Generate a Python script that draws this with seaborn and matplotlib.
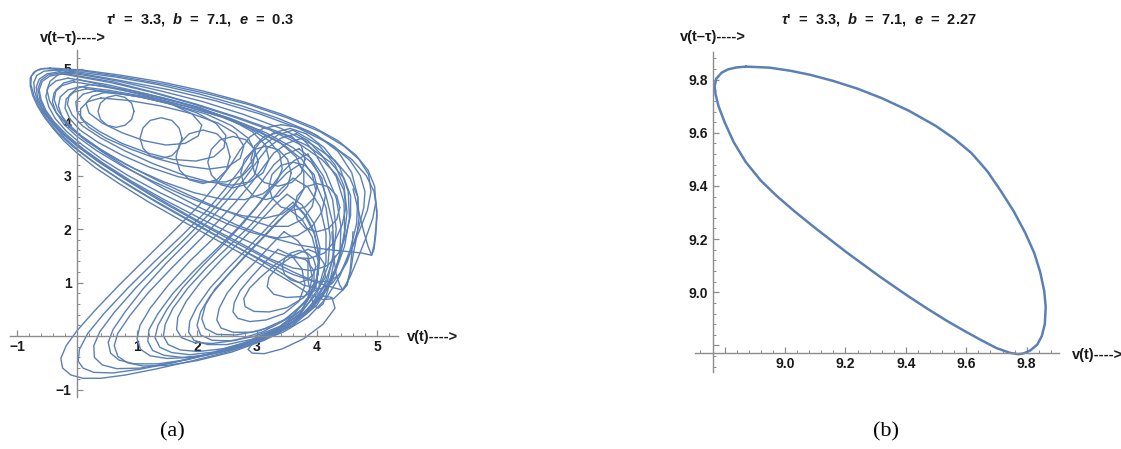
import matplotlib
matplotlib.use("Agg")
import matplotlib.pyplot as plt
from matplotlib.ticker import MultipleLocator
import pandas as pd
import seaborn as sns

LINE = "#5b80b6"
AXIS = "#8c8c8c"
INK = "#1a1a1a"

# ---- panel (a): chaotic attractor, strands ----
# big tilted loops: top-left vertex -> descending band -> right side -> top band
top_loops = [
    [(-0.45, 5.01), (-0.62, 4.99), (-0.72, 4.93), (-0.78, 4.82), (-0.78, 4.68), (-0.74, 4.5), (-0.66, 4.3),
     (-0.55, 4.1), (-0.4, 3.88), (-0.22, 3.65), (0.0, 3.42), (0.3, 3.15), (0.7, 2.85), (1.2, 2.5), (1.8, 2.12),
     (2.4, 1.75), (3.0, 1.38), (3.5, 1.05), (3.85, 0.8), (4.1, 0.68), (4.28, 0.7), (4.42, 0.85), (4.55, 1.1),
     (4.68, 1.45), (4.82, 1.85), (4.93, 2.2), (4.98, 2.5), (4.96, 2.8), (4.85, 3.1), (4.65, 3.38), (4.35, 3.65),
     (3.95, 3.9), (3.4, 4.15), (2.8, 4.37), (2.1, 4.58), (1.4, 4.75), (0.7, 4.88), (0.1, 4.97), (-0.45, 5.01)],
    [(-0.55, 5.0), (-0.68, 4.96), (-0.76, 4.86), (-0.77, 4.7), (-0.72, 4.5), (-0.63, 4.28), (-0.5, 4.05),
     (-0.32, 3.8), (-0.08, 3.55), (0.25, 3.27), (0.68, 2.95), (1.22, 2.58), (1.82, 2.2), (2.45, 1.8), (3.0, 1.45),
     (3.45, 1.15), (3.78, 0.95), (4.05, 0.88), (4.25, 0.98), (4.4, 1.2), (4.55, 1.55), (4.7, 1.95), (4.84, 2.35),
     (4.9, 2.7), (4.86, 3.02), (4.7, 3.3), (4.45, 3.55), (4.05, 3.82), (3.5, 4.08), (2.88, 4.32), (2.2, 4.52),
     (1.48, 4.7), (0.78, 4.84), (0.12, 4.95), (-0.55, 5.0)],
    [(-0.35, 4.97), (-0.55, 4.95), (-0.67, 4.87), (-0.72, 4.74), (-0.71, 4.58), (-0.65, 4.38), (-0.55, 4.17),
     (-0.4, 3.95), (-0.2, 3.7), (0.05, 3.45), (0.4, 3.15), (0.85, 2.82), (1.4, 2.45), (2.0, 2.07), (2.6, 1.7),
     (3.15, 1.38), (3.6, 1.15), (3.95, 1.02), (4.2, 1.02), (4.38, 1.15), (4.5, 1.38), (4.6, 1.7), (4.7, 2.05),
     (4.78, 2.4), (4.8, 2.7), (4.72, 3.0), (4.55, 3.28), (4.28, 3.55), (3.88, 3.82), (3.35, 4.07), (2.75, 4.3),
     (2.05, 4.52), (1.35, 4.7), (0.65, 4.84), (0.05, 4.93), (-0.35, 4.97)],
    [(-0.3, 4.94), (-0.5, 4.9), (-0.63, 4.8), (-0.68, 4.65), (-0.66, 4.47), (-0.58, 4.26), (-0.45, 4.04),
     (-0.26, 3.8), (0.0, 3.55), (0.35, 3.26), (0.8, 2.93), (1.35, 2.55), (1.95, 2.17), (2.55, 1.8), (3.1, 1.48),
     (3.6, 1.2), (4.0, 1.0), (4.28, 0.9), (4.43, 0.86), (4.5, 0.95), (4.56, 1.2), (4.6, 1.5), (4.66, 1.85),
     (4.7, 2.2), (4.68, 2.6), (4.55, 2.95), (4.3, 3.28), (3.92, 3.58), (3.4, 3.88), (2.78, 4.14), (2.1, 4.38),
     (1.4, 4.58), (0.7, 4.76), (0.1, 4.88), (-0.3, 4.94)],
    [(-0.28, 4.92), (-0.48, 4.88), (-0.6, 4.78), (-0.65, 4.62), (-0.62, 4.43), (-0.54, 4.22), (-0.4, 4.0),
     (-0.2, 3.76), (0.08, 3.5), (0.45, 3.2), (0.92, 2.86), (1.5, 2.48), (2.1, 2.1), (2.7, 1.75), (3.2, 1.45),
     (3.6, 1.27), (3.92, 1.22), (4.18, 1.32), (4.36, 1.55), (4.48, 1.88), (4.56, 2.25), (4.56, 2.62), (4.45, 2.95),
     (4.22, 3.25), (3.85, 3.55), (3.35, 3.82), (2.7, 4.08), (2.0, 4.33), (1.3, 4.55), (0.6, 4.75), (-0.28, 4.92)],
    [(-0.25, 4.9), (-0.45, 4.86), (-0.58, 4.76), (-0.63, 4.6), (-0.6, 4.42), (-0.52, 4.22), (-0.38, 4.0),
     (-0.18, 3.77), (0.1, 3.5), (0.45, 3.22), (0.9, 2.9), (1.45, 2.55), (2.05, 2.2), (2.65, 1.87), (3.15, 1.62),
     (3.55, 1.47), (3.88, 1.45), (4.12, 1.55), (4.3, 1.78), (4.42, 2.08), (4.48, 2.4), (4.45, 2.72), (4.32, 3.02),
     (4.08, 3.3), (3.72, 3.58), (3.22, 3.85), (2.6, 4.1), (1.9, 4.35), (1.2, 4.57), (0.55, 4.74), (-0.25, 4.9)],
    [(-0.1, 4.93), (-0.32, 4.88), (-0.45, 4.76), (-0.5, 4.6), (-0.46, 4.4), (-0.35, 4.18), (-0.16, 3.94),
     (0.1, 3.7), (0.45, 3.42), (0.9, 3.1), (1.45, 2.75), (2.05, 2.4), (2.65, 2.08), (3.2, 1.85), (3.7, 1.7),
     (4.15, 1.62), (4.5, 1.58), (4.75, 1.55), (4.91, 1.51), (4.95, 1.7), (4.98, 2.0), (5.0, 2.35), (4.95, 2.7),
     (4.82, 3.0), (4.58, 3.3), (4.2, 3.6), (3.7, 3.88), (3.05, 4.15), (2.3, 4.4), (1.55, 4.6), (0.8, 4.76),
     (0.2, 4.88), (-0.1, 4.93)],
    [(-0.15, 4.82), (-0.35, 4.77), (-0.48, 4.65), (-0.52, 4.48), (-0.47, 4.28), (-0.36, 4.06), (-0.18, 3.83),
     (0.08, 3.58), (0.42, 3.3), (0.85, 3.0), (1.38, 2.68), (1.95, 2.37), (2.5, 2.1), (2.95, 1.92), (3.35, 1.83),
     (3.68, 1.88), (3.92, 2.05), (4.08, 2.32), (4.14, 2.62), (4.08, 2.95), (3.9, 3.25), (3.6, 3.52), (3.15, 3.8),
     (2.55, 4.07), (1.85, 4.32), (1.15, 4.53), (0.5, 4.7), (-0.15, 4.82)],
    [(0.0, 4.8), (-0.22, 4.73), (-0.35, 4.6), (-0.38, 4.42), (-0.32, 4.22), (-0.18, 4.0), (0.05, 3.76),
     (0.38, 3.5), (0.8, 3.22), (1.3, 2.93), (1.85, 2.64), (2.38, 2.38), (2.85, 2.18), (3.22, 2.05), (3.52, 2.05),
     (3.76, 2.18), (3.92, 2.42), (3.98, 2.72), (3.92, 3.02), (3.75, 3.3), (3.45, 3.57), (3.0, 3.83), (2.45, 4.08),
     (1.8, 4.3), (1.1, 4.5), (0.5, 4.67), (0.0, 4.8)],
    [(-0.05, 4.75), (-0.25, 4.68), (-0.38, 4.55), (-0.41, 4.38), (-0.35, 4.18), (-0.22, 3.96), (0.0, 3.73),
     (0.32, 3.47), (0.75, 3.18), (1.25, 2.9), (1.8, 2.62), (2.3, 2.4), (2.75, 2.25), (3.12, 2.2), (3.42, 2.28),
     (3.65, 2.48), (3.78, 2.75), (3.78, 3.05), (3.65, 3.35), (3.38, 3.62), (2.95, 3.88), (2.4, 4.12),
     (1.75, 4.35), (1.05, 4.53), (0.45, 4.66), (-0.05, 4.75)],
    [(0.05, 4.66), (-0.15, 4.6), (-0.28, 4.47), (-0.31, 4.3), (-0.25, 4.1), (-0.1, 3.88), (0.15, 3.65),
     (0.5, 3.4), (0.95, 3.13), (1.45, 2.88), (1.95, 2.68), (2.4, 2.56), (2.8, 2.55), (3.1, 2.66), (3.32, 2.86),
     (3.42, 3.12), (3.38, 3.4), (3.2, 3.65), (2.88, 3.88), (2.4, 4.1), (1.8, 4.3), (1.15, 4.47), (0.55, 4.59),
     (0.05, 4.66)],
    [(0.22, 4.7), (0.0, 4.63), (-0.13, 4.5), (-0.16, 4.33), (-0.08, 4.13), (0.1, 3.92), (0.4, 3.7), (0.8, 3.46),
     (1.27, 3.22), (1.75, 3.02), (2.2, 2.88), (2.58, 2.82), (2.88, 2.88), (3.1, 3.05), (3.2, 3.3), (3.14, 3.57),
     (2.92, 3.82), (2.55, 4.05), (2.05, 4.27), (1.45, 4.45), (0.85, 4.6), (0.22, 4.7)],
    [(0.15, 4.62), (-0.05, 4.56), (-0.18, 4.43), (-0.2, 4.26), (-0.12, 4.06), (0.05, 3.85), (0.35, 3.62),
     (0.75, 3.38), (1.2, 3.16), (1.68, 2.98), (2.1, 2.88), (2.48, 2.88), (2.76, 3.0), (2.93, 3.2), (2.97, 3.45),
     (2.85, 3.7), (2.58, 3.93), (2.15, 4.15), (1.6, 4.33), (1.0, 4.48), (0.5, 4.57), (0.15, 4.62)],
    [(0.4, 4.45), (0.18, 4.38), (0.06, 4.25), (0.06, 4.08), (0.2, 3.9), (0.48, 3.7), (0.88, 3.5), (1.32, 3.32),
     (1.78, 3.18), (2.2, 3.12), (2.52, 3.17), (2.72, 3.32), (2.78, 3.55), (2.65, 3.78), (2.35, 3.98), (1.9, 4.16),
     (1.4, 4.3), (0.88, 4.4), (0.4, 4.45)],
    [(0.3, 4.58), (0.1, 4.52), (-0.02, 4.38), (0.0, 4.2), (0.12, 4.02), (0.38, 3.82), (0.75, 3.6), (1.18, 3.42),
     (1.6, 3.3), (1.98, 3.27), (2.28, 3.35), (2.45, 3.52), (2.48, 3.75), (2.32, 3.97), (2.0, 4.17), (1.55, 4.34),
     (1.05, 4.47), (0.6, 4.55), (0.3, 4.58)],
    [(0.45, 4.55), (0.25, 4.48), (0.15, 4.35), (0.2, 4.17), (0.42, 3.98), (0.75, 3.8), (1.12, 3.65), (1.48, 3.57),
     (1.8, 3.6), (2.02, 3.74), (2.08, 3.94), (1.92, 4.15), (1.6, 4.32), (1.15, 4.45), (0.75, 4.52), (0.45, 4.55)],
]

# loops opening to the upper right, vertex at the lower left
bottom_loops = [
    [(3.4, 3.95), (3.1, 3.88), (2.88, 3.72), (2.72, 3.48), (2.55, 3.18), (2.3, 2.8), (2.0, 2.4), (1.6, 1.95),
     (1.15, 1.45), (0.7, 0.95), (0.3, 0.48), (0.0, 0.1), (-0.18, -0.18), (-0.27, -0.42), (-0.24, -0.6),
     (-0.1, -0.73), (0.1, -0.79), (0.4, -0.79), (0.8, -0.73), (1.3, -0.62), (1.9, -0.47), (2.5, -0.3),
     (3.0, -0.12), (3.45, 0.08), (3.85, 0.35), (4.15, 0.7), (4.38, 1.12), (4.55, 1.6), (4.66, 2.1), (4.68, 2.6),
     (4.58, 3.05), (4.35, 3.45), (4.0, 3.75), (3.7, 3.9), (3.4, 3.95)],
    [(3.55, 3.88), (3.28, 3.8), (3.05, 3.62), (2.88, 3.38), (2.7, 3.08), (2.45, 2.72), (2.15, 2.33), (1.75, 1.88),
     (1.3, 1.4), (0.85, 0.9), (0.45, 0.42), (0.18, 0.05), (0.04, -0.25), (0.02, -0.47), (0.1, -0.6),
     (0.28, -0.68), (0.6, -0.69), (1.05, -0.62), (1.6, -0.5), (2.2, -0.34), (2.8, -0.14), (3.3, 0.08),
     (3.75, 0.38), (4.08, 0.75), (4.3, 1.18), (4.46, 1.68), (4.54, 2.2), (4.52, 2.7), (4.38, 3.15), (4.12, 3.52),
     (3.82, 3.78), (3.55, 3.88)],
    [(3.6, 3.85), (3.35, 3.76), (3.12, 3.58), (2.95, 3.33), (2.76, 3.02), (2.5, 2.66), (2.2, 2.28), (1.82, 1.84),
     (1.4, 1.38), (0.98, 0.9), (0.62, 0.44), (0.38, 0.08), (0.28, -0.18), (0.29, -0.4), (0.42, -0.54),
     (0.66, -0.61), (1.05, -0.6), (1.58, -0.5), (2.2, -0.33), (2.8, -0.12), (3.32, 0.12), (3.78, 0.44),
     (4.1, 0.82), (4.32, 1.28), (4.45, 1.8), (4.5, 2.32), (4.45, 2.8), (4.3, 3.2), (4.02, 3.58), (3.6, 3.85)],
    [(3.65, 3.78), (3.4, 3.7), (3.18, 3.52), (3.0, 3.26), (2.8, 2.95), (2.55, 2.6), (2.25, 2.22), (1.88, 1.8),
     (1.48, 1.35), (1.1, 0.88), (0.8, 0.45), (0.6, 0.12), (0.52, -0.12), (0.56, -0.32), (0.7, -0.45),
     (0.95, -0.52), (1.35, -0.52), (1.85, -0.44), (2.45, -0.28), (3.0, -0.08), (3.5, 0.18), (3.92, 0.52),
     (4.2, 0.95), (4.38, 1.45), (4.46, 1.98), (4.45, 2.5), (4.32, 2.98), (4.08, 3.38), (3.85, 3.65), (3.65, 3.78)],
    [(3.75, 3.7), (3.5, 3.6), (3.28, 3.42), (3.1, 3.15), (2.9, 2.85), (2.64, 2.5), (2.33, 2.12), (1.96, 1.7),
     (1.56, 1.25), (1.18, 0.8), (0.88, 0.38), (0.68, 0.05), (0.62, -0.18), (0.68, -0.38), (0.84, -0.5),
     (1.1, -0.56), (1.5, -0.55), (2.0, -0.46), (2.58, -0.3), (3.12, -0.08), (3.6, 0.2), (4.0, 0.58), (4.25, 1.02),
     (4.38, 1.52), (4.4, 2.05), (4.32, 2.58), (4.15, 3.05), (3.95, 3.45), (3.75, 3.7)],
    [(3.7, 3.5), (3.48, 3.4), (3.28, 3.2), (3.1, 2.92), (2.88, 2.58), (2.6, 2.2), (2.25, 1.8), (1.88, 1.4),
     (1.52, 0.95), (1.22, 0.52), (1.05, 0.2), (1.0, -0.05), (1.06, -0.25), (1.22, -0.37), (1.5, -0.42),
     (1.9, -0.4), (2.4, -0.3), (2.95, -0.12), (3.45, 0.14), (3.85, 0.5), (4.12, 0.95), (4.27, 1.45), (4.32, 2.0),
     (4.26, 2.55), (4.1, 3.0), (3.9, 3.32), (3.7, 3.5)],
    [(3.85, 3.4), (3.62, 3.28), (3.42, 3.06), (3.22, 2.76), (2.98, 2.4), (2.68, 2.02), (2.32, 1.62), (1.95, 1.22),
     (1.6, 0.8), (1.35, 0.42), (1.2, 0.12), (1.18, -0.1), (1.26, -0.27), (1.45, -0.36), (1.75, -0.4),
     (2.15, -0.36), (2.65, -0.24), (3.15, -0.05), (3.6, 0.22), (3.95, 0.6), (4.18, 1.05), (4.28, 1.58),
     (4.26, 2.12), (4.15, 2.62), (4.02, 3.05), (3.85, 3.4)],
    [(3.7, 3.2), (3.5, 3.05), (3.3, 2.82), (3.06, 2.5), (2.78, 2.12), (2.45, 1.72), (2.1, 1.32), (1.76, 0.9),
     (1.5, 0.5), (1.35, 0.2), (1.3, -0.03), (1.38, -0.21), (1.58, -0.31), (1.88, -0.35), (2.28, -0.3),
     (2.78, -0.16), (3.25, 0.06), (3.68, 0.38), (4.0, 0.8), (4.18, 1.3), (4.22, 1.85), (4.15, 2.4), (3.98, 2.85),
     (3.7, 3.2)],
    [(3.6, 2.95), (3.4, 2.75), (3.18, 2.45), (2.9, 2.08), (2.55, 1.7), (2.18, 1.3), (1.85, 0.9), (1.6, 0.52),
     (1.47, 0.22), (1.44, 0.0), (1.52, -0.16), (1.72, -0.26), (2.02, -0.29), (2.42, -0.24), (2.9, -0.1),
     (3.35, 0.12), (3.75, 0.45), (4.02, 0.88), (4.15, 1.38), (4.15, 1.92), (4.05, 2.42), (3.85, 2.78), (3.6, 2.95)],
    [(3.5, 2.65), (3.3, 2.45), (3.05, 2.15), (2.75, 1.8), (2.4, 1.42), (2.07, 1.02), (1.82, 0.65), (1.68, 0.35),
     (1.66, 0.12), (1.74, -0.03), (1.95, -0.12), (2.25, -0.14), (2.65, -0.08), (3.1, 0.08), (3.52, 0.34),
     (3.85, 0.7), (4.02, 1.15), (4.05, 1.65), (3.95, 2.1), (3.75, 2.45), (3.5, 2.65)],
    [(3.6, 2.5), (3.4, 2.3), (3.15, 2.0), (2.85, 1.65), (2.52, 1.27), (2.22, 0.9), (2.0, 0.55), (1.88, 0.28),
     (1.86, 0.07), (1.95, -0.08), (2.18, -0.16), (2.5, -0.16), (2.92, -0.06), (3.35, 0.15), (3.74, 0.48),
     (3.98, 0.92), (4.04, 1.42), (3.96, 1.9), (3.8, 2.25), (3.6, 2.5)],
    [(3.55, 2.35), (3.35, 2.15), (3.1, 1.85), (2.8, 1.5), (2.5, 1.12), (2.22, 0.75), (2.06, 0.45), (2.0, 0.2),
     (2.06, 0.02), (2.25, -0.08), (2.55, -0.09), (2.95, -0.01), (3.38, 0.18), (3.75, 0.5), (3.98, 0.92),
     (4.02, 1.4), (3.92, 1.85), (3.75, 2.18), (3.55, 2.35)],
    [(3.65, 2.45), (3.45, 2.25), (3.2, 1.95), (2.9, 1.6), (2.58, 1.22), (2.3, 0.88), (2.14, 0.58), (2.08, 0.32),
     (2.14, 0.14), (2.33, 0.03), (2.65, 0.02), (3.05, 0.1), (3.45, 0.3), (3.8, 0.62), (4.0, 1.02), (4.04, 1.5),
     (3.95, 1.95), (3.82, 2.25), (3.65, 2.45)],
    [(3.45, 1.95), (3.25, 1.72), (3.0, 1.42), (2.72, 1.1), (2.5, 0.8), (2.37, 0.52), (2.33, 0.3), (2.4, 0.15),
     (2.6, 0.07), (2.9, 0.07), (3.25, 0.17), (3.6, 0.38), (3.85, 0.72), (3.92, 1.1), (3.85, 1.5), (3.68, 1.78),
     (3.45, 1.95)],
    [(3.35, 1.62), (3.15, 1.4), (2.92, 1.12), (2.72, 0.85), (2.62, 0.62), (2.6, 0.45), (2.68, 0.33), (2.88, 0.27),
     (3.15, 0.3), (3.45, 0.42), (3.7, 0.65), (3.8, 0.95), (3.75, 1.25), (3.58, 1.5), (3.35, 1.62)],
    [(3.55, 1.52), (3.32, 1.35), (3.08, 1.12), (2.88, 0.9), (2.78, 0.7), (2.8, 0.55), (2.95, 0.46), (3.2, 0.45),
     (3.5, 0.53), (3.78, 0.72), (3.95, 0.98), (3.95, 1.22), (3.82, 1.42), (3.55, 1.52)],
    [(3.85, 1.62), (3.6, 1.5), (3.35, 1.3), (3.2, 1.1), (3.17, 0.92), (3.28, 0.78), (3.5, 0.72), (3.78, 0.74),
     (4.02, 0.88), (4.14, 1.1), (4.12, 1.35), (4.0, 1.55), (3.85, 1.62)],
    [(4.1, 0.75), (3.85, 0.45), (3.5, 0.18), (3.15, -0.02), (2.92, -0.15), (2.85, -0.25), (2.92, -0.32),
     (3.12, -0.33), (3.42, -0.24), (3.78, -0.05), (4.1, 0.22), (4.3, 0.52), (4.25, 0.72), (4.1, 0.75)],
]

# small curls in the middle of the tangle
ring_loops = [
    [(2.55, 3.35), (2.49, 3.6), (2.33, 3.78), (2.1, 3.85), (1.87, 3.78), (1.71, 3.6), (1.65, 3.35), (1.71, 3.1),
     (1.87, 2.92), (2.1, 2.85), (2.33, 2.92), (2.49, 3.1), (2.55, 3.35)],
    [(3.02, 3.25), (2.96, 3.49), (2.81, 3.67), (2.6, 3.73), (2.39, 3.67), (2.24, 3.49), (2.18, 3.25), (2.24, 3.01),
     (2.39, 2.83), (2.6, 2.77), (2.81, 2.83), (2.96, 3.01), (3.02, 3.25)],
    [(3.57, 3.05), (3.51, 3.3), (3.36, 3.48), (3.15, 3.55), (2.94, 3.48), (2.79, 3.3), (2.73, 3.05), (2.79, 2.8),
     (2.94, 2.62), (3.15, 2.55), (3.36, 2.62), (3.51, 2.8), (3.57, 3.05)],
    [(4.0, 2.8), (3.95, 3.02), (3.8, 3.19), (3.6, 3.25), (3.4, 3.19), (3.25, 3.02), (3.2, 2.8), (3.25, 2.58),
     (3.4, 2.41), (3.6, 2.35), (3.8, 2.41), (3.95, 2.58), (4.0, 2.8)],
    [(4.38, 2.4), (4.33, 2.62), (4.19, 2.79), (4.0, 2.85), (3.81, 2.79), (3.67, 2.62), (3.62, 2.4), (3.67, 2.18),
     (3.81, 2.01), (4.0, 1.95), (4.19, 2.01), (4.33, 2.18), (4.38, 2.4)],
    [(1.75, 3.7), (1.7, 3.89), (1.58, 4.03), (1.4, 4.08), (1.22, 4.03), (1.1, 3.89), (1.05, 3.7), (1.1, 3.51),
     (1.22, 3.37), (1.4, 3.32), (1.58, 3.37), (1.7, 3.51), (1.75, 3.7)],
    [(0.95, 4.2), (0.91, 4.35), (0.8, 4.46), (0.65, 4.5), (0.5, 4.46), (0.39, 4.35), (0.35, 4.2), (0.39, 4.05),
     (0.5, 3.94), (0.65, 3.9), (0.8, 3.94), (0.91, 4.05), (0.95, 4.2)],
    [(3.8, 3.3), (3.74, 3.55), (3.58, 3.73), (3.35, 3.8), (3.12, 3.73), (2.96, 3.55), (2.9, 3.3), (2.96, 3.05),
     (3.12, 2.87), (3.35, 2.8), (3.58, 2.87), (3.74, 3.05), (3.8, 3.3)],
    [(3.98, 1.3), (3.94, 1.45), (3.84, 1.55), (3.7, 1.6), (3.56, 1.55), (3.46, 1.45), (3.42, 1.3), (3.46, 1.15),
     (3.56, 1.05), (3.7, 1.0), (3.84, 1.05), (3.94, 1.15), (3.98, 1.3)],
]

# narrow drops hanging on the right side
drop_loops = [
    [(4.6, 2.75), (4.7, 2.3), (4.78, 1.95), (4.85, 1.68), (4.91, 1.51), (4.95, 1.62), (4.98, 1.9), (5.0, 2.25),
     (4.97, 2.6)],
    [(4.25, 1.95), (4.27, 1.55), (4.32, 1.15), (4.38, 0.95), (4.43, 0.86), (4.49, 0.95), (4.55, 1.2), (4.58, 1.55),
     (4.6, 1.95)],
    [(3.85, 1.45), (3.85, 1.05), (3.9, 0.72), (3.96, 0.56), (4.02, 0.52), (4.1, 0.6), (4.18, 0.85), (4.25, 1.2),
     (4.3, 1.5)],
]

# ---- panel (b): limit cycle ----
cycle_x = [8.871, 8.95, 9.02, 9.084, 9.16, 9.24, 9.321, 9.41, 9.499, 9.56, 9.617, 9.67, 9.715, 9.757, 9.795,
           9.825, 9.845, 9.858, 9.863, 9.86, 9.85, 9.835, 9.812, 9.79, 9.772, 9.745, 9.70, 9.646, 9.59, 9.535,
           9.47, 9.403, 9.315, 9.204, 9.094, 9.03, 8.973, 8.92, 8.87, 8.83, 8.80, 8.78, 8.77, 8.767, 8.772,
           8.79, 8.812, 8.84, 8.871]
cycle_y = [9.849, 9.845, 9.833, 9.818, 9.795, 9.766, 9.730, 9.683, 9.626, 9.578, 9.524, 9.455, 9.38, 9.305, 9.224,
           9.148, 9.075, 9.005, 8.945, 8.88, 8.835, 8.803, 8.781, 8.77, 8.767, 8.772, 8.79, 8.822, 8.857, 8.893,
           8.939, 8.989, 9.058, 9.150, 9.247, 9.306, 9.362, 9.42, 9.49, 9.565, 9.64, 9.70, 9.745, 9.775, 9.803,
           9.826, 9.839, 9.846, 9.849]

sns.set_theme(style="white")
plt.rcParams["font.family"] = ["Liberation Sans", "DejaVu Sans"]
plt.rcParams["mathtext.fontset"] = "custom"
plt.rcParams["mathtext.rm"] = "Liberation Sans:bold"
plt.rcParams["mathtext.bf"] = "Liberation Sans:bold"
plt.rcParams["mathtext.it"] = "Liberation Sans:bold:italic"

rows = []
for i, loop in enumerate(top_loops + bottom_loops + ring_loops + drop_loops):
    for x, y in loop:
        rows.append({"loop": i, "x": x, "y": y})
strands = pd.DataFrame(rows)
cycle = pd.DataFrame({"x": cycle_x, "y": cycle_y})

W, H = 1121, 449
fig = plt.figure(figsize=(W / 100, H / 100), dpi=100)
ax1 = fig.add_axes([10 / W, 52 / H, 388 / W, 347 / H])
ax2 = fig.add_axes([695 / W, 77 / H, 364 / W, 320 / H])

sns.lineplot(data=strands, x="x", y="y", units="loop", estimator=None, sort=False,
             color=LINE, lw=1.0, ax=ax1)
sns.lineplot(data=cycle, x="x", y="y", estimator=None, sort=False, color=LINE, lw=1.8, ax=ax2)


def mathematica_axes(ax, x0, y0, xlim, ylim, xt, xl, yt, yl, minor):
    ax.set_xlim(xlim)
    ax.set_ylim(ylim)
    ax.set_xlabel("")
    ax.set_ylabel("")
    ax.grid(False)
    for s in ("top", "right"):
        ax.spines[s].set_visible(False)
    ax.spines["left"].set_position(("data", x0))
    ax.spines["bottom"].set_position(("data", y0))
    for s in ("left", "bottom"):
        ax.spines[s].set_color(AXIS)
        ax.spines[s].set_linewidth(1.0)
    ax.set_xticks(xt)
    ax.set_xticklabels(xl, fontsize=10, fontweight="bold", color=INK)
    ax.set_yticks(yt)
    ax.set_yticklabels(yl, fontsize=10, fontweight="bold", color=INK)
    ax.xaxis.set_minor_locator(MultipleLocator(minor))
    ax.yaxis.set_minor_locator(MultipleLocator(minor))
    ax.tick_params(which="major", direction="in", length=4, width=0.9, color=AXIS)
    ax.tick_params(which="minor", direction="in", length=2.2, width=0.7, color=AXIS)
    ax.tick_params(axis="x", which="both", pad=3, bottom=True)
    ax.tick_params(axis="y", which="both", pad=4, left=True)
    ax.patch.set_alpha(0)


mathematica_axes(ax1, 0, 0, (-1.117, 5.35), (-1.14, 5.346),
                 [-1, 1, 2, 3, 4, 5], ["\u22121", "1", "2", "3", "4", "5"],
                 [-1, 1, 2, 3, 4, 5], ["\u22121", "1", "2", "3", "4", "5"], 0.2)
mathematica_axes(ax2, 8.762, 8.771, (8.702, 9.907), (8.70, 9.904),
                 [8.8, 9.0, 9.2, 9.4, 9.6, 9.8], ["", "9.0", "9.2", "9.4", "9.6", "9.8"],
                 [8.8, 9.0, 9.2, 9.4, 9.6, 9.8], ["", "9.0", "9.2", "9.4", "9.6", "9.8"], 0.04)


def ftext(px, py, s, **kw):
    fig.text(px / W, 1 - py / H, s, **kw)


ftext(200, 20, r"$\it{\tau}$'  =  3.3,  $\it{b}$  =  7.1,  $\it{e}$  =  0.3",
      ha="center", va="center", fontsize=10.5, fontweight="bold", color=INK)
ftext(879, 20, r"$\it{\tau}$'  =  3.3,  $\it{b}$  =  7.1,  $\it{e}$  =  2.27",
      ha="center", va="center", fontsize=10.5, fontweight="bold", color=INK)
ftext(40, 38, "v(t\u2013\u03c4)---->", ha="left", va="center", fontsize=10.5, fontweight="bold", color=INK)
ftext(680, 37, "v(t\u2013\u03c4)---->", ha="left", va="center", fontsize=10.5, fontweight="bold", color=INK)
ftext(407, 337, "v(t)---->", ha="left", va="center", fontsize=10.5, fontweight="bold", color=INK)
ftext(1072, 355, "v(t)---->", ha="left", va="center", fontsize=10.5, fontweight="bold", color=INK)
ftext(172, 432, "(a)", ha="center", va="center", fontsize=16, family="Liberation Serif", color="black")
ftext(886, 432, "(b)", ha="center", va="center", fontsize=16, family="Liberation Serif", color="black")

fig.savefig("out.png", dpi=100)
